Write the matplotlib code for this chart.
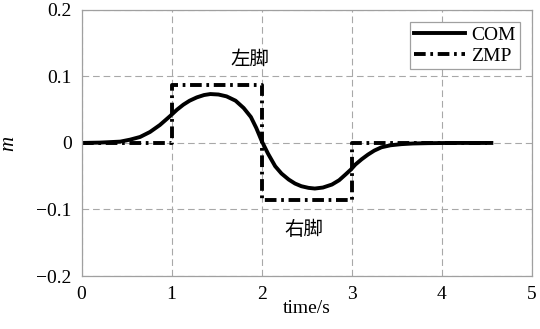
import numpy as np
import matplotlib
matplotlib.use("Agg")
import matplotlib.pyplot as plt

# COM trajectory (time in s, lateral offset in m)
t_com = [0.0, 0.2, 0.43, 0.54, 0.65, 0.76, 0.87, 0.98, 1.06, 1.13, 1.2, 1.28, 1.36,
         1.43, 1.52, 1.61, 1.71, 1.8, 1.88, 1.94, 2.0, 2.07, 2.15, 2.22, 2.3, 2.37,
         2.44, 2.52, 2.59, 2.68, 2.78, 2.86, 2.93, 2.99, 3.04, 3.11, 3.18, 3.25,
         3.33, 3.43, 3.55, 3.68, 3.85, 4.1, 4.55]
y_com = [0.0, 0.0005, 0.002, 0.005, 0.009, 0.0165, 0.027, 0.040, 0.050, 0.0575,
         0.0635, 0.0685, 0.072, 0.0735, 0.0728, 0.070, 0.0635, 0.0525, 0.039, 0.0225,
         0.003, -0.016, -0.035, -0.046, -0.055, -0.061, -0.065, -0.0675, -0.0685,
         -0.067, -0.0625, -0.056, -0.0475, -0.040, -0.0325, -0.0245, -0.0175,
         -0.0115, -0.0065, -0.0035, -0.0018, -0.0008, -0.0003, 0.0, 0.0]

# ZMP reference (piecewise constant support foot)
t_zmp = [0.0, 1.0, 1.0, 2.0, 2.0, 3.0, 3.0, 4.5]
y_zmp = [0.0, 0.0, 0.087, 0.087, -0.085, -0.085, 0.0, 0.0]

xticks = [0, 1, 2, 3, 4, 5]
yticks = [-0.2, -0.1, 0, 0.1, 0.2]
ytick_labels = ["\u22120.2", "\u22120.1", "0", "0.1", "0.2"]

plt.rcParams["font.family"] = ["Liberation Serif", "DejaVu Serif"]

fig = plt.figure(figsize=(5.4, 3.29), dpi=100)
ax = fig.add_axes([0.151, 0.161, 0.834, 0.809])

ax.plot(t_com, y_com, color="black", lw=2.8, solid_joinstyle="round", label="COM")
ax.plot(t_zmp, y_zmp, color="black", lw=2.8, linestyle=(0, (3.0, 1.2, 0.7, 1.2)),
        label="ZMP")

ax.set_xlim(0, 5)
ax.set_ylim(-0.2, 0.2)
ax.set_xticks(xticks)
ax.set_yticks(yticks)
ax.set_yticklabels(ytick_labels)
ax.tick_params(length=0, labelsize=14, pad=7)
ax.grid(True, color="#a8a8a8", linestyle=(0, (6, 3.5)), lw=0.8)
for sp in ax.spines.values():
    sp.set_color("#a0a0a0")
    sp.set_linewidth(0.9)

ax.set_xlabel("time/s", fontsize=14, labelpad=-2)
ax.set_ylabel("m", fontsize=15, style="italic")
ax.yaxis.set_label_coords(-0.14, 0.5)

cjk = ["Noto Sans CJK SC", "DejaVu Sans"]
ax.text(1.87, 0.125, "左脚", fontsize=14, family=cjk, ha="center", va="center")
ax.text(2.47, -0.13, "右脚", fontsize=14, family=cjk, ha="center", va="center")

leg = ax.legend(loc="upper right", fontsize=14, handlelength=2.6, handletextpad=0.3,
                borderpad=0.25, labelspacing=0.15, borderaxespad=0.6,
                fancybox=False, framealpha=1)
leg.get_frame().set_edgecolor("#a0a0a0")
leg.get_frame().set_linewidth(0.9)

fig.savefig("out.png", dpi=100)
